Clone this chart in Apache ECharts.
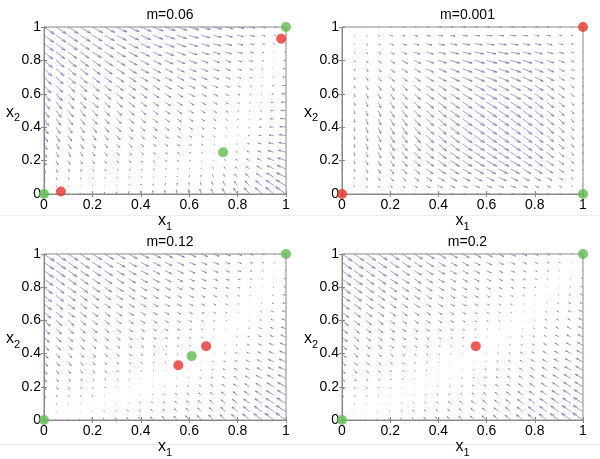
<!DOCTYPE html>
<html><head><meta charset="utf-8">
<script src="https://cdn.jsdelivr.net/npm/echarts@6/dist/echarts.min.js"></script>
<style>html,body{margin:0;padding:0;background:#fff}#c{width:600px;height:459px}</style>
</head><body><div id="c"></div>
<script>
// ---------- data ----------
const gridX = [0,0.05,0.1,0.15,0.2,0.25,0.3,0.35,0.4,0.45,0.5,0.55,0.6,0.65,0.7,0.75,0.8,0.85,0.9,0.95,1];
const gridY = [0,0.05,0.1,0.15,0.2,0.25,0.3,0.35,0.4,0.45,0.5,0.55,0.6,0.65,0.7,0.75,0.8,0.85,0.9,0.95,1];
const tickValues = [0,0.2,0.4,0.6,0.8,1];
const titles = ['m=0.06','m=0.001','m=0.12','m=0.2'];

// vector components (rows: x2 = 0 ... 1, columns: x1 = 0 ... 1), units of 0.001
const U_m006 = [
[0,-1,-1,-1,0,0,0,1,0,0,-1,-3,-5,-8,-12,-17,-23,-30,-38,-48,-60],
[3,2,2,2,3,3,3,4,3,3,2,0,-2,-5,-9,-14,-20,-27,-35,-45,-57],
[6,5,5,5,6,6,6,7,6,6,5,3,1,-2,-6,-11,-17,-24,-32,-42,-54],
[9,8,8,8,9,9,9,10,9,9,8,6,4,1,-3,-8,-14,-21,-29,-39,-51],
[12,11,11,11,12,12,12,13,12,12,11,9,7,4,0,-5,-11,-18,-26,-36,-48],
[15,14,14,14,15,15,15,16,15,15,14,12,10,7,3,-2,-8,-15,-23,-33,-45],
[18,17,17,17,18,18,18,19,18,18,17,15,13,10,6,1,-5,-12,-20,-30,-42],
[21,20,20,20,21,21,21,22,21,21,20,18,16,13,9,4,-2,-9,-17,-27,-39],
[24,23,23,23,24,24,24,25,24,24,23,21,19,16,12,7,1,-6,-14,-24,-36],
[27,26,26,26,27,27,27,28,27,27,26,24,22,19,15,10,4,-3,-11,-21,-33],
[30,29,29,29,30,30,30,31,30,30,29,27,25,22,18,13,7,0,-8,-18,-30],
[33,32,32,32,33,33,33,34,33,33,32,30,28,25,21,16,10,3,-5,-15,-27],
[36,35,35,35,36,36,36,37,36,36,35,33,31,28,24,19,13,6,-2,-12,-24],
[39,38,38,38,39,39,39,40,39,39,38,36,34,31,27,22,16,9,1,-9,-21],
[42,41,41,41,42,42,42,43,42,42,41,39,37,34,30,25,19,12,4,-6,-18],
[45,44,44,44,45,45,45,46,45,45,44,42,40,37,33,28,22,15,7,-3,-15],
[48,47,47,47,48,48,48,49,48,48,47,45,43,40,36,31,25,18,10,0,-12],
[51,50,50,50,51,51,51,52,51,51,50,48,46,43,39,34,28,21,13,3,-9],
[54,53,53,53,54,54,54,55,54,54,53,51,49,46,42,37,31,24,16,6,-6],
[57,56,56,56,57,57,57,58,57,57,56,54,52,49,45,40,34,27,19,9,-3],
[60,59,59,59,60,60,60,61,60,60,59,57,55,52,48,43,37,30,22,12,0]
];
const V_m006 = [
[0,3,6,9,12,15,18,21,24,27,30,33,36,39,42,45,48,51,54,57,60],
[-12,-9,-6,-3,0,3,6,9,12,15,18,21,24,27,30,33,36,39,42,45,48],
[-22,-19,-16,-13,-10,-7,-4,-1,2,5,8,11,14,17,20,23,26,29,32,35,38],
[-30,-27,-24,-21,-18,-15,-12,-9,-6,-3,0,3,6,9,12,15,18,21,24,27,30],
[-37,-34,-31,-28,-25,-22,-19,-16,-13,-10,-7,-4,-1,2,5,8,11,14,17,20,23],
[-43,-40,-37,-34,-31,-28,-25,-22,-19,-16,-13,-10,-7,-4,-1,2,5,8,11,14,17],
[-48,-45,-42,-39,-36,-33,-30,-27,-24,-21,-18,-15,-12,-9,-6,-3,0,3,6,9,12],
[-52,-49,-46,-43,-40,-37,-34,-31,-28,-25,-22,-19,-16,-13,-10,-7,-4,-1,2,5,8],
[-55,-52,-49,-46,-43,-40,-37,-34,-31,-28,-25,-22,-19,-16,-13,-10,-7,-4,-1,2,5],
[-57,-54,-51,-48,-45,-42,-39,-36,-33,-30,-27,-24,-21,-18,-15,-12,-9,-6,-3,0,3],
[-59,-56,-53,-50,-47,-44,-41,-38,-35,-32,-29,-26,-23,-20,-17,-14,-11,-8,-5,-2,1],
[-60,-57,-54,-51,-48,-45,-42,-39,-36,-33,-30,-27,-24,-21,-18,-15,-12,-9,-6,-3,0],
[-60,-57,-54,-51,-48,-45,-42,-39,-36,-33,-30,-27,-24,-21,-18,-15,-12,-9,-6,-3,0],
[-61,-58,-55,-52,-49,-46,-43,-40,-37,-34,-31,-28,-25,-22,-19,-16,-13,-10,-7,-4,-1],
[-60,-57,-54,-51,-48,-45,-42,-39,-36,-33,-30,-27,-24,-21,-18,-15,-12,-9,-6,-3,0],
[-60,-57,-54,-51,-48,-45,-42,-39,-36,-33,-30,-27,-24,-21,-18,-15,-12,-9,-6,-3,0],
[-60,-57,-54,-51,-48,-45,-42,-39,-36,-33,-30,-27,-24,-21,-18,-15,-12,-9,-6,-3,0],
[-59,-56,-53,-50,-47,-44,-41,-38,-35,-32,-29,-26,-23,-20,-17,-14,-11,-8,-5,-2,1],
[-59,-56,-53,-50,-47,-44,-41,-38,-35,-32,-29,-26,-23,-20,-17,-14,-11,-8,-5,-2,1],
[-59,-56,-53,-50,-47,-44,-41,-38,-35,-32,-29,-26,-23,-20,-17,-14,-11,-8,-5,-2,1],
[-60,-57,-54,-51,-48,-45,-42,-39,-36,-33,-30,-27,-24,-21,-18,-15,-12,-9,-6,-3,0]
];
const U_m0001 = [
[0,1,2,2,4,5,5,7,7,8,8,9,9,9,9,8,7,6,5,2,0],
[0,1,3,4,6,8,9,11,12,14,15,15,15,15,15,14,12,10,8,4,0],
[0,2,4,6,9,11,14,17,18,20,22,23,23,23,22,20,18,15,11,6,-1],
[0,2,5,7,11,14,16,20,22,24,26,27,28,27,26,24,22,18,14,7,-1],
[0,2,5,8,12,15,18,22,24,27,29,30,31,31,29,27,24,20,15,8,-1],
[0,2,5,8,12,15,18,22,24,27,29,30,31,31,30,27,24,20,15,8,-1],
[0,2,5,8,12,15,18,22,24,27,29,30,31,31,30,28,24,20,15,8,-1],
[0,2,5,8,12,15,18,22,24,27,29,30,31,31,30,28,25,20,15,8,-1],
[0,2,5,8,12,15,18,22,24,27,29,30,31,31,30,28,25,21,15,8,-1],
[0,2,5,8,12,15,18,22,24,27,29,30,31,31,30,28,25,21,16,8,-1],
[1,2,5,8,12,15,18,22,24,27,29,30,31,31,30,28,25,21,16,9,-1],
[1,3,5,8,12,15,18,22,24,27,29,30,31,31,30,28,25,21,16,9,0],
[1,3,6,8,12,15,18,22,24,27,29,30,31,31,30,28,25,21,16,9,0],
[1,3,6,9,12,15,18,22,24,27,29,30,31,31,30,28,25,21,16,9,0],
[1,3,6,9,13,15,18,22,24,27,29,30,31,31,30,28,25,21,16,9,0],
[1,3,6,9,13,16,18,22,24,27,29,30,31,31,30,28,25,21,16,9,0],
[1,3,6,9,13,16,19,22,24,27,29,30,31,31,30,28,25,21,16,9,0],
[1,3,5,8,12,14,17,21,22,24,26,27,28,28,27,25,23,19,14,8,0],
[1,2,5,7,10,12,14,17,19,20,22,23,23,23,23,21,19,16,12,7,0],
[1,2,3,5,7,8,10,12,13,14,15,15,16,16,15,14,13,11,8,5,0],
[0,1,2,3,4,5,6,7,8,8,9,9,9,9,9,8,8,6,5,3,0]
];
const V_m0001 = [
[0,0,0,0,0,0,0,0,0,0,1,1,1,1,1,1,1,1,1,1,0],
[-3,-5,-7,-8,-9,-9,-9,-9,-9,-9,-9,-8,-8,-8,-8,-8,-8,-7,-6,-4,-2],
[-5,-8,-12,-14,-16,-16,-16,-16,-16,-16,-16,-16,-15,-15,-15,-15,-15,-14,-11,-8,-5],
[-6,-11,-16,-19,-21,-21,-21,-21,-21,-21,-21,-21,-21,-20,-20,-20,-20,-18,-15,-10,-6],
[-8,-13,-19,-23,-25,-25,-25,-25,-25,-25,-25,-25,-25,-25,-24,-24,-24,-22,-18,-12,-7],
[-8,-14,-21,-25,-28,-28,-28,-28,-28,-28,-28,-28,-28,-28,-28,-27,-27,-24,-20,-14,-8],
[-9,-15,-23,-27,-30,-30,-30,-30,-30,-30,-30,-30,-30,-30,-30,-30,-29,-26,-22,-15,-9],
[-9,-16,-23,-28,-31,-31,-31,-31,-31,-31,-31,-31,-31,-31,-31,-31,-31,-27,-23,-15,-9],
[-9,-16,-23,-28,-31,-31,-31,-31,-31,-31,-31,-31,-31,-31,-31,-31,-31,-28,-23,-15,-9],
[-9,-15,-23,-27,-30,-30,-30,-30,-30,-30,-30,-30,-30,-30,-30,-30,-30,-27,-23,-15,-9],
[-9,-15,-22,-26,-29,-29,-29,-29,-29,-29,-29,-29,-29,-29,-29,-29,-29,-26,-22,-15,-8],
[-8,-14,-20,-24,-27,-27,-27,-27,-27,-27,-27,-27,-27,-27,-27,-27,-27,-24,-20,-14,-8],
[-8,-13,-19,-22,-24,-24,-24,-24,-24,-24,-24,-24,-24,-24,-24,-24,-24,-22,-18,-12,-7],
[-7,-12,-17,-21,-22,-22,-22,-22,-22,-22,-22,-22,-22,-22,-22,-22,-22,-20,-17,-11,-7],
[-6,-10,-14,-17,-19,-18,-18,-18,-18,-18,-18,-18,-18,-18,-18,-18,-18,-16,-14,-9,-5],
[-5,-8,-12,-14,-16,-16,-15,-15,-15,-15,-15,-15,-15,-15,-15,-15,-15,-14,-11,-8,-5],
[-4,-7,-10,-12,-13,-13,-13,-12,-12,-12,-12,-12,-12,-12,-12,-12,-12,-11,-9,-6,-4],
[-3,-5,-7,-8,-9,-9,-9,-9,-8,-8,-8,-8,-8,-8,-8,-8,-8,-7,-6,-4,-2],
[-2,-3,-5,-5,-6,-6,-6,-6,-6,-5,-5,-5,-5,-5,-5,-5,-5,-5,-4,-3,-2],
[-1,-2,-2,-3,-3,-3,-3,-3,-3,-3,-2,-2,-2,-2,-2,-2,-2,-2,-2,-1,-1],
[0,-1,-1,-1,-1,-1,-1,-1,-1,-1,-1,0,0,0,0,0,0,0,0,0,0]
];
const U_m012 = [
[0,-4,-7,-10,-12,-15,-18,-20,-24,-27,-31,-36,-41,-47,-54,-62,-71,-81,-92,-105,-120],
[6,2,-1,-4,-6,-9,-12,-14,-18,-21,-25,-30,-35,-41,-48,-56,-65,-75,-86,-99,-114],
[12,8,5,2,0,-3,-6,-8,-12,-15,-19,-24,-29,-35,-42,-50,-59,-69,-80,-93,-108],
[18,14,11,8,6,3,0,-2,-6,-9,-13,-18,-23,-29,-36,-44,-53,-63,-74,-87,-102],
[24,20,17,14,12,9,6,4,0,-3,-7,-12,-17,-23,-30,-38,-47,-57,-68,-81,-96],
[30,26,23,20,18,15,12,10,6,3,-1,-6,-11,-17,-24,-32,-41,-51,-62,-75,-90],
[36,32,29,26,24,21,18,16,12,9,5,0,-5,-11,-18,-26,-35,-45,-56,-69,-84],
[42,38,35,32,30,27,24,22,18,15,11,6,1,-5,-12,-20,-29,-39,-50,-63,-78],
[48,44,41,38,36,33,30,28,24,21,17,12,7,1,-6,-14,-23,-33,-44,-57,-72],
[54,50,47,44,42,39,36,34,30,27,23,18,13,7,0,-8,-17,-27,-38,-51,-66],
[60,56,53,50,48,45,42,40,36,33,29,24,19,13,6,-2,-11,-21,-32,-45,-60],
[66,62,59,56,54,51,48,46,42,39,35,30,25,19,12,4,-5,-15,-26,-39,-54],
[72,68,65,62,60,57,54,52,48,45,41,36,31,25,18,10,1,-9,-20,-33,-48],
[78,74,71,68,66,63,60,58,54,51,47,42,37,31,24,16,7,-3,-14,-27,-42],
[84,80,77,74,72,69,66,64,60,57,53,48,43,37,30,22,13,3,-8,-21,-36],
[90,86,83,80,78,75,72,70,66,63,59,54,49,43,36,28,19,9,-2,-15,-30],
[96,92,89,86,84,81,78,76,72,69,65,60,55,49,42,34,25,15,4,-9,-24],
[102,98,95,92,90,87,84,82,78,75,71,66,61,55,48,40,31,21,10,-3,-18],
[108,104,101,98,96,93,90,88,84,81,77,72,67,61,54,46,37,27,16,3,-12],
[114,110,107,104,102,99,96,94,90,87,83,78,73,67,60,52,43,33,22,9,-6],
[120,116,113,110,108,105,102,100,96,93,89,84,79,73,66,58,49,39,28,15,0]
];
const V_m012 = [
[0,6,12,18,24,30,36,42,48,54,60,66,72,78,84,90,96,102,108,114,120],
[-15,-9,-3,3,9,15,21,27,33,39,45,51,57,63,69,75,81,87,93,99,105],
[-28,-22,-16,-10,-4,2,8,14,20,26,32,38,44,50,56,62,68,74,80,86,92],
[-39,-33,-27,-21,-15,-9,-3,3,9,15,21,27,33,39,45,51,57,63,69,75,81],
[-49,-43,-37,-31,-25,-19,-13,-7,-1,5,11,17,23,29,35,41,47,53,59,65,71],
[-58,-52,-46,-40,-34,-28,-22,-16,-10,-4,2,8,14,20,26,32,38,44,50,56,62],
[-66,-60,-54,-48,-42,-36,-30,-24,-18,-12,-6,0,6,12,18,24,30,36,42,48,54],
[-73,-67,-61,-55,-49,-43,-37,-31,-25,-19,-13,-7,-1,5,11,17,23,29,35,41,47],
[-79,-73,-67,-61,-55,-49,-43,-37,-31,-25,-19,-13,-7,-1,5,11,17,23,29,35,41],
[-84,-78,-72,-66,-60,-54,-48,-42,-36,-30,-24,-18,-12,-6,0,6,12,18,24,30,36],
[-89,-83,-77,-71,-65,-59,-53,-47,-41,-35,-29,-23,-17,-11,-5,1,7,13,19,25,31],
[-93,-87,-81,-75,-69,-63,-57,-51,-45,-39,-33,-27,-21,-15,-9,-3,3,9,15,21,27],
[-96,-90,-84,-78,-72,-66,-60,-54,-48,-42,-36,-30,-24,-18,-12,-6,0,6,12,18,24],
[-100,-94,-88,-82,-76,-70,-64,-58,-52,-46,-40,-34,-28,-22,-16,-10,-4,2,8,14,20],
[-102,-96,-90,-84,-78,-72,-66,-60,-54,-48,-42,-36,-30,-24,-18,-12,-6,0,6,12,18],
[-105,-99,-93,-87,-81,-75,-69,-63,-57,-51,-45,-39,-33,-27,-21,-15,-9,-3,3,9,15],
[-108,-102,-96,-90,-84,-78,-72,-66,-60,-54,-48,-42,-36,-30,-24,-18,-12,-6,0,6,12],
[-110,-104,-98,-92,-86,-80,-74,-68,-62,-56,-50,-44,-38,-32,-26,-20,-14,-8,-2,4,10],
[-113,-107,-101,-95,-89,-83,-77,-71,-65,-59,-53,-47,-41,-35,-29,-23,-17,-11,-5,1,7],
[-116,-110,-104,-98,-92,-86,-80,-74,-68,-62,-56,-50,-44,-38,-32,-26,-20,-14,-8,-2,4],
[-120,-114,-108,-102,-96,-90,-84,-78,-72,-66,-60,-54,-48,-42,-36,-30,-24,-18,-12,-6,0]
];
const U_m02 = [
[0,-8,-15,-22,-28,-35,-42,-48,-56,-63,-71,-80,-89,-99,-110,-122,-135,-149,-164,-181,-200],
[10,2,-5,-12,-18,-25,-32,-38,-46,-53,-61,-70,-79,-89,-100,-112,-125,-139,-154,-171,-190],
[20,12,5,-2,-8,-15,-22,-28,-36,-43,-51,-60,-69,-79,-90,-102,-115,-129,-144,-161,-180],
[30,22,15,8,2,-5,-12,-18,-26,-33,-41,-50,-59,-69,-80,-92,-105,-119,-134,-151,-170],
[40,32,25,18,12,5,-2,-8,-16,-23,-31,-40,-49,-59,-70,-82,-95,-109,-124,-141,-160],
[50,42,35,28,22,15,8,2,-6,-13,-21,-30,-39,-49,-60,-72,-85,-99,-114,-131,-150],
[60,52,45,38,32,25,18,12,4,-3,-11,-20,-29,-39,-50,-62,-75,-89,-104,-121,-140],
[70,62,55,48,42,35,28,22,14,7,-1,-10,-19,-29,-40,-52,-65,-79,-94,-111,-130],
[80,72,65,58,52,45,38,32,24,17,9,0,-9,-19,-30,-42,-55,-69,-84,-101,-120],
[90,82,75,68,62,55,48,42,34,27,19,10,1,-9,-20,-32,-45,-59,-74,-91,-110],
[100,92,85,78,72,65,58,52,44,37,29,20,11,1,-10,-22,-35,-49,-64,-81,-100],
[110,102,95,88,82,75,68,62,54,47,39,30,21,11,0,-12,-25,-39,-54,-71,-90],
[120,112,105,98,92,85,78,72,64,57,49,40,31,21,10,-2,-15,-29,-44,-61,-80],
[130,122,115,108,102,95,88,82,74,67,59,50,41,31,20,8,-5,-19,-34,-51,-70],
[140,132,125,118,112,105,98,92,84,77,69,60,51,41,30,18,5,-9,-24,-41,-60],
[150,142,135,128,122,115,108,102,94,87,79,70,61,51,40,28,15,1,-14,-31,-50],
[160,152,145,138,132,125,118,112,104,97,89,80,71,61,50,38,25,11,-4,-21,-40],
[170,162,155,148,142,135,128,122,114,107,99,90,81,71,60,48,35,21,6,-11,-30],
[180,172,165,158,152,145,138,132,124,117,109,100,91,81,70,58,45,31,16,-1,-20],
[190,182,175,168,162,155,148,142,134,127,119,110,101,91,80,68,55,41,26,9,-10],
[200,192,185,178,172,165,158,152,144,137,129,120,111,101,90,78,65,51,36,19,0]
];
const V_m02 = [
[0,10,20,30,40,50,60,70,80,90,100,110,120,130,140,150,160,170,180,190,200],
[-19,-9,1,11,21,31,41,51,61,71,81,91,101,111,121,131,141,151,161,171,181],
[-36,-26,-16,-6,4,14,24,34,44,54,64,74,84,94,104,114,124,134,144,154,164],
[-51,-41,-31,-21,-11,-1,9,19,29,39,49,59,69,79,89,99,109,119,129,139,149],
[-65,-55,-45,-35,-25,-15,-5,5,15,25,35,45,55,65,75,85,95,105,115,125,135],
[-78,-68,-58,-48,-38,-28,-18,-8,2,12,22,32,42,52,62,72,82,92,102,112,122],
[-90,-80,-70,-60,-50,-40,-30,-20,-10,0,10,20,30,40,50,60,70,80,90,100,110],
[-101,-91,-81,-71,-61,-51,-41,-31,-21,-11,-1,9,19,29,39,49,59,69,79,89,99],
[-111,-101,-91,-81,-71,-61,-51,-41,-31,-21,-11,-1,9,19,29,39,49,59,69,79,89],
[-120,-110,-100,-90,-80,-70,-60,-50,-40,-30,-20,-10,0,10,20,30,40,50,60,70,80],
[-129,-119,-109,-99,-89,-79,-69,-59,-49,-39,-29,-19,-9,1,11,21,31,41,51,61,71],
[-137,-127,-117,-107,-97,-87,-77,-67,-57,-47,-37,-27,-17,-7,3,13,23,33,43,53,63],
[-144,-134,-124,-114,-104,-94,-84,-74,-64,-54,-44,-34,-24,-14,-4,6,16,26,36,46,56],
[-152,-142,-132,-122,-112,-102,-92,-82,-72,-62,-52,-42,-32,-22,-12,-2,8,18,28,38,48],
[-158,-148,-138,-128,-118,-108,-98,-88,-78,-68,-58,-48,-38,-28,-18,-8,2,12,22,32,42],
[-165,-155,-145,-135,-125,-115,-105,-95,-85,-75,-65,-55,-45,-35,-25,-15,-5,5,15,25,35],
[-172,-162,-152,-142,-132,-122,-112,-102,-92,-82,-72,-62,-52,-42,-32,-22,-12,-2,8,18,28],
[-178,-168,-158,-148,-138,-128,-118,-108,-98,-88,-78,-68,-58,-48,-38,-28,-18,-8,2,12,22],
[-185,-175,-165,-155,-145,-135,-125,-115,-105,-95,-85,-75,-65,-55,-45,-35,-25,-15,-5,5,15],
[-192,-182,-172,-162,-152,-142,-132,-122,-112,-102,-92,-82,-72,-62,-52,-42,-32,-22,-12,-2,8],
[-200,-190,-180,-170,-160,-150,-140,-130,-120,-110,-100,-90,-80,-70,-60,-50,-40,-30,-20,-10,0]
];

// equilibria (green = stable, red = unstable)
const stable_m006 = [[0,0],[1,1],[0.74,0.25]];
const unstable_m006 = [[0.07,0.015],[0.98,0.93]];
const stable_m0001 = [[1,0]];
const unstable_m0001 = [[0,0],[1,1]];
const stable_m012 = [[0,0],[1,1],[0.61,0.385]];
const unstable_m012 = [[0.555,0.33],[0.67,0.445]];
const stable_m02 = [[0,0],[1,1]];
const unstable_m02 = [[0.555,0.445]];

// ---------- chart ----------
const panels = [
  {U: U_m006, V: V_m006, st: stable_m006, un: unstable_m006, box: [44, 27, 242, 167]},
  {U: U_m0001, V: V_m0001, st: stable_m0001, un: unstable_m0001, box: [342, 27, 241, 167]},
  {U: U_m012, V: V_m012, st: stable_m012, un: unstable_m012, box: [44, 254, 242, 168]},
  {U: U_m02, V: V_m02, st: stable_m02, un: unstable_m02, box: [342, 254, 241, 168]}
];
const FONT = 'Liberation Sans, Arial, Helvetica, sans-serif';
const AXC = '#8a8a8a';
const ARROW = '#7275b6';
const nameRich = {
  v: {fontSize: 16, fontFamily: FONT, color: '#000', lineHeight: 22, verticalAlign: 'middle'},
  s: {fontSize: 11, fontFamily: FONT, color: '#000', lineHeight: 22, verticalAlign: 'bottom'}
};

const grid = [], xAxis = [], yAxis = [], series = [], title = [];
panels.forEach((p, k) => {
  const [l, t, w, h] = p.box;
  grid.push({left: l, top: t, width: w, height: h, show: true, borderColor: AXC, borderWidth: 1,
    backgroundColor: 'transparent', z: 3});
  title.push({text: titles[k], left: l + w / 2, top: t - 24, textAlign: 'center',
    textStyle: {fontSize: 14, fontWeight: 'normal', fontFamily: FONT, color: '#000'}});
  const common = {type: 'value', min: 0, max: 1, interval: 0.2, gridIndex: k, splitLine: {show: false}, z: 3};
  xAxis.push(Object.assign({}, common, {position: 'bottom',
    axisLine: {show: true, lineStyle: {color: AXC}},
    axisTick: {show: true, inside: true, length: 3, lineStyle: {color: AXC}},
    axisLabel: {margin: 4, fontSize: 14, fontFamily: FONT, color: '#000'},
    name: '{v|x}{s|1}', nameLocation: 'middle', nameGap: 16,
    nameTextStyle: {rich: nameRich}}));
  xAxis.push(Object.assign({}, common, {position: 'top',
    axisLine: {show: false}, axisLabel: {show: false},
    axisTick: {show: true, inside: true, length: 3, lineStyle: {color: AXC}}}));
  yAxis.push(Object.assign({}, common, {position: 'left',
    axisLine: {show: true, lineStyle: {color: AXC}},
    axisTick: {show: true, inside: true, length: 3, lineStyle: {color: AXC}},
    axisLabel: {margin: 3, fontSize: 14, fontFamily: FONT, color: '#000'},
    name: '{v|x}{s|2}', nameLocation: 'middle', nameGap: 24, nameRotate: 0, nameMoveOverlap: false,
    nameTextStyle: {rich: nameRich, padding: [4, 0, 0, 0]}}));
  yAxis.push(Object.assign({}, common, {position: 'right',
    axisLine: {show: false}, axisLabel: {show: false},
    axisTick: {show: true, inside: true, length: 3, lineStyle: {color: AXC}}}));

  // quiver table
  const data = [];
  let maxLen = 0;
  for (let i = 0; i < gridY.length; i++) {
    for (let j = 0; j < gridX.length; j++) {
      data.push([gridX[j], gridY[i], p.U[i][j], p.V[i][j]]);
      maxLen = Math.max(maxLen, Math.hypot(p.U[i][j], p.V[i][j]));
    }
  }
  // MATLAB-like autoscale: longest arrow = 0.9 of the diagonal grid spacing
  const del = Math.hypot(1 / gridX.length, 1 / gridY.length);
  const s = 0.9 * del / maxLen;
  series.push({
    type: 'custom', coordinateSystem: 'cartesian2d', xAxisIndex: 2 * k, yAxisIndex: 2 * k,
    data: data, silent: true, z: 1,
    renderItem: function (params, api) {
      const x = api.value(0), y = api.value(1);
      const u = api.value(2) * s, v = api.value(3) * s;
      if (u === 0 && v === 0) return null;
      const a = 0.33, b = 0.33;
      const p0 = api.coord([x, y]);
      const p1 = api.coord([x + u, y + v]);
      const h1 = api.coord([x + u - a * (u + b * v), y + v - a * (v - b * u)]);
      const h2 = api.coord([x + u - a * (u - b * v), y + v - a * (v + b * u)]);
      const st = {stroke: ARROW, lineWidth: 0.75, fill: null, opacity: 0.9};
      return {type: 'group', children: [
        {type: 'line', shape: {x1: p0[0], y1: p0[1], x2: p1[0], y2: p1[1]}, style: st},
        {type: 'polyline', shape: {points: [h1, p1, h2]}, style: st}
      ]};
    }
  });
  series.push({type: 'scatter', xAxisIndex: 2 * k, yAxisIndex: 2 * k, data: p.st, symbolSize: 10,
    itemStyle: {color: '#5cba4e'}, z: 6, silent: true, clip: false});
  series.push({type: 'scatter', xAxisIndex: 2 * k, yAxisIndex: 2 * k, data: p.un, symbolSize: 10,
    itemStyle: {color: '#e8322b'}, z: 6, silent: true, clip: false});
});

const chart = echarts.init(document.getElementById('c'), null, {renderer: 'canvas'});
chart.setOption({
  animation: false,
  backgroundColor: '#fff',
  title: title,
  grid: grid, xAxis: xAxis, yAxis: yAxis, series: series,
  graphic: [
    {type: 'line', shape: {x1: 0, y1: 215.5, x2: 600, y2: 215.5}, style: {stroke: '#ececec', lineWidth: 1}, z: -1, silent: true},
    {type: 'line', shape: {x1: 0, y1: 444.5, x2: 600, y2: 444.5}, style: {stroke: '#ececec', lineWidth: 1}, z: -1, silent: true}
  ]
});
</script>
</body></html>
